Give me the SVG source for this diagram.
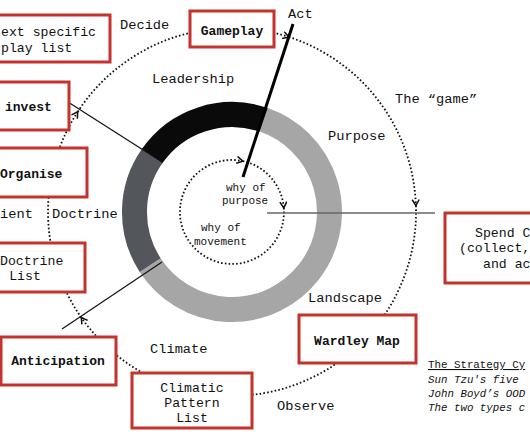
<svg xmlns="http://www.w3.org/2000/svg" width="530" height="442" viewBox="0 0 530 442">
<defs>
<style>
.box{fill:#fff;stroke:#c4332c;stroke-width:3}
.bt{font-family:"Liberation Mono",monospace;font-size:13px;font-weight:bold;fill:#111}
.t{font-family:"Liberation Mono",monospace;font-size:13.7px;fill:#111}
.bx{font-family:"Liberation Mono",monospace;font-size:13.2px;fill:#111}
.s{font-family:"Liberation Mono",monospace;font-size:11px;fill:#111}
.lg{font-family:"Liberation Mono",monospace;font-size:10.8px;fill:#111}
.dot{fill:none;stroke:#111;stroke-width:1.8;stroke-dasharray:1.6 2.2}
.ring{fill:none;stroke-width:25}
</style>
<marker id="chev" markerWidth="10" markerHeight="10" refX="7" refY="4" orient="auto" markerUnits="userSpaceOnUse">
<path d="M1,0.5 L7,4 L1,7.5" fill="none" stroke="#111" stroke-width="1.5"/>
</marker>
</defs>
<rect width="530" height="442" fill="#fff"/>

<g id="ring">
<path class="ring" stroke="#a6a6a6" d="M263.7,119.8 A97.5,97.5 0 1 1 150.2,265.1"/>
<path class="ring" stroke="#53575c" d="M150.2,265.1 A97.5,97.5 0 0 1 152.1,156.1"/>
<path class="ring" stroke="#0a0a0a" d="M152.1,156.1 A97.5,97.5 0 0 1 263.7,119.8"/>
</g>

<g id="connectors">
<path class="dot" d="M77.7,111.8 A184,184 0 0 1 288.9,37.0" marker-end="url(#chev)"/>
<path class="dot" d="M288.9,37.0 A184,184 0 0 1 415.9,205.6" marker-end="url(#chev)"/>
<path class="dot" d="M415.9,205.6 A184,184 0 0 1 81.3,317.5" marker-end="url(#chev)"/>
<path class="dot" d="M81.3,317.5 A184,184 0 0 1 77.7,111.8" marker-end="url(#chev)"/>
<path class="dot" d="M283.8,207.9 A52,52 0 1 1 242.8,161.1" marker-end="url(#chev)"/>
<path class="dot" d="M242.8,161.1 A52,52 0 0 1 283.8,207.9" marker-end="url(#chev)"/>
<line x1="293" y1="24" x2="243" y2="177" stroke="#000" stroke-width="3"/>
<line x1="68" y1="102" x2="162" y2="162" stroke="#111" stroke-width="1.2"/>
<line x1="62" y1="329" x2="162" y2="262" stroke="#111" stroke-width="1.2"/>
<line x1="267" y1="213" x2="435" y2="213" stroke="#666" stroke-width="1.6"/>
</g>

<g id="context">
<rect class="box" x="-10" y="15" width="120" height="47"/>
<text class="bx" x="1" y="36">ext specific</text>
<text class="bx" x="1" y="52">play list</text>
</g>
<g id="gameplay">
<rect class="box" x="190" y="11" width="84" height="36"/>
<text class="bt" x="232" y="35" text-anchor="middle">Gameplay</text>
</g>
<g id="invest">
<rect class="box" x="-10" y="82" width="79" height="48"/>
<text class="bt" x="5" y="111">invest</text>
</g>
<g id="organise">
<rect class="box" x="-10" y="148" width="97" height="49"/>
<text class="bt" x="0" y="178">Organise</text>
</g>
<g id="doctrine-list">
<rect class="box" x="-10" y="243" width="95" height="49"/>
<text class="bx" x="0" y="265">Doctrine</text>
<text class="bx" x="25" y="280" text-anchor="middle">List</text>
</g>
<g id="anticipation">
<rect class="box" x="1" y="337" width="115" height="48"/>
<text class="bt" x="58" y="365" text-anchor="middle">Anticipation</text>
</g>
<g id="climatic">
<rect class="box" x="132" y="373" width="120" height="55"/>
<text class="bx" x="192" y="392" text-anchor="middle">Climatic</text>
<text class="bx" x="192" y="407" text-anchor="middle">Pattern</text>
<text class="bx" x="192" y="422" text-anchor="middle">List</text>
</g>
<g id="wardley">
<rect class="box" x="299" y="315" width="117" height="48"/>
<text class="bt" x="357" y="345" text-anchor="middle">Wardley Map</text>
</g>
<g id="spend">
<rect class="box" x="445" y="213" width="100" height="70"/>
<text class="bx" x="475" y="237">Spend C</text>
<text class="bx" x="459" y="252">(collect,</text>
<text class="bx" x="483" y="268">and ac</text>
</g>

<g id="labels">
<text class="t" x="120" y="29">Decide</text>
<text class="t" x="288" y="18">Act</text>
<text class="t" x="152" y="83">Leadership</text>
<text class="t" x="395" y="103">The “game”</text>
<text class="t" x="328" y="140">Purpose</text>
<text class="t" x="308" y="302">Landscape</text>
<text class="t" x="150" y="353">Climate</text>
<text class="t" x="277" y="410">Observe</text>
<text class="t" x="0" y="218">ient</text>
<text class="t" x="52" y="218">Doctrine</text>
<text class="s" x="226" y="191">why of</text>
<text class="s" x="222" y="204">purpose</text>
<text class="s" x="201" y="231">why of</text>
<text class="s" x="194" y="245">movement</text>
</g>

<g id="legend">
<text class="lg" x="428" y="368" text-decoration="underline">The Strategy Cy</text>
<text class="lg" x="428" y="383" font-style="italic">Sun Tzu's five</text>
<text class="lg" x="428" y="397" font-style="italic">John Boyd’s OOD</text>
<text class="lg" x="428" y="411" font-style="italic">The two types c</text>
</g>
</svg>
